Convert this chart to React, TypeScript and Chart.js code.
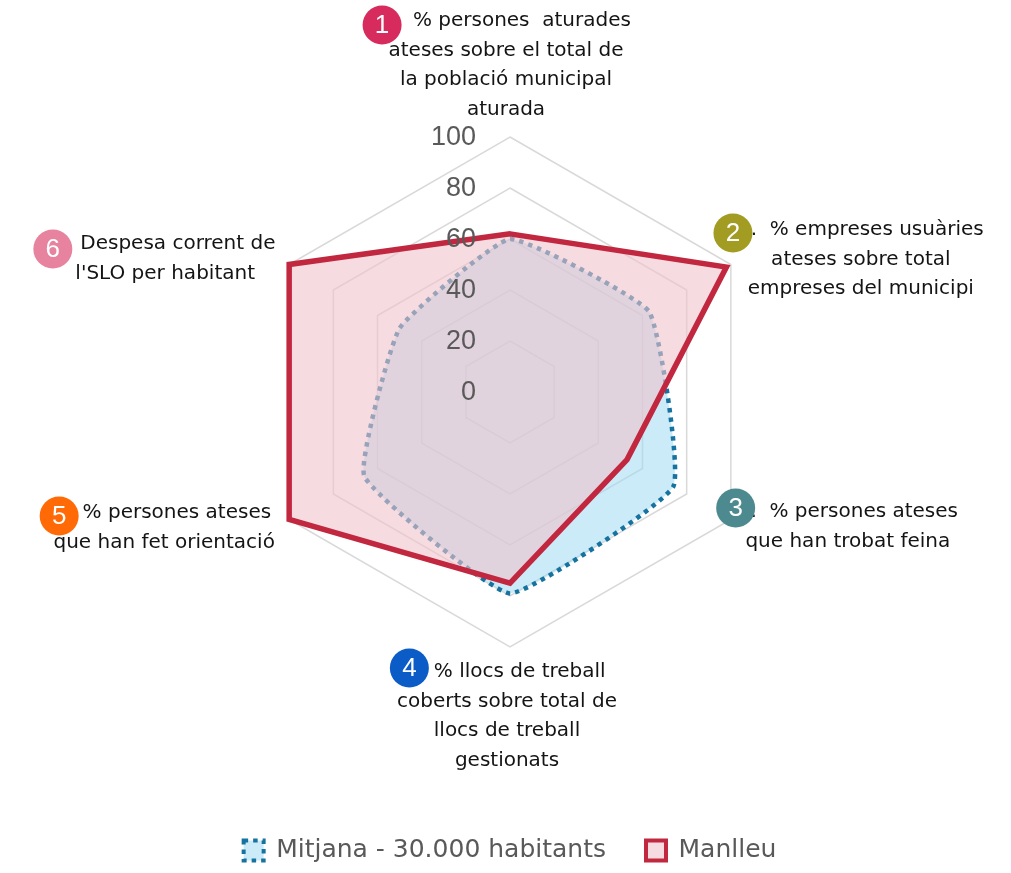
import React, { useEffect, useRef } from 'react';
import { Chart, registerables } from 'chart.js';

Chart.register(...registerables);

// ---- data ----
const categories: string[][] = [
  ['1.  % persones  aturades', 'ateses sobre el total de', 'la població municipal', 'aturada'],
  ['2.  % empreses usuàries', 'ateses sobre total', 'empreses del municipi'],
  ['3.  % persones ateses', 'que han trobat feina'],
  ['4. % llocs de treball', 'coberts sobre total de', 'llocs de treball', 'gestionats'],
  ['5. % persones ateses', 'que han fet orientació'],
  ['6. Despesa corrent de', "l'SLO per habitant"],
];
const badgeNumbers = ['1', '2', '3', '4', '5', '6'];
const seriesNames = ['Mitjana - 30.000 habitants', 'Manlleu'];
const mitjana = [60, 63, 74, 79, 66, 50];
const manlleu = [62, 98, 53, 75, 100, 100];
const tickValues = [0, 20, 40, 60, 80, 100];

// ---- styles / layout ----
const badgeColors = ['#d62b5c', '#a29c22', '#4d8a8f', '#0b5cc7', '#ff6a06', '#e8839f'];
// label block offsets (centre x, first line centre y) relative to the outer vertex of each axis
const labelOffsets: [number, number][] = [
  [-4, -116],
  [130, -34.5],
  [117, -7.5],
  [-3, 25],
  [-125, -6.5],
  [-124, -20.5],
];
// badge nudges relative to the start of the first line
const badgeNudges: [number, number][] = [
  [0, 3],
  [-6, 2],
  [-3, -5],
  [0, -5],
  [1, 2],
  [-3, 4],
];
const LINE_H = 29.5;

const overlayPlugin = {
  id: 'overlay',
  afterDatasetsDraw(chart: any) {
    const scale = chart.scales.r;
    const ctx: CanvasRenderingContext2D = chart.ctx;
    ctx.save();

    // tick labels, right aligned left of the vertical axis
    ctx.font = '27px "Liberation Sans", Arial, sans-serif';
    ctx.fillStyle = '#595959';
    ctx.textAlign = 'right';
    ctx.textBaseline = 'middle';
    scale.ticks.forEach((t: any) => {
      if (!tickValues.includes(t.value)) return;
      const d = scale.getDistanceFromCenterForValue(t.value);
      ctx.fillText(String(t.value), scale.xCenter - 34, scale.yCenter - d + 1);
    });

    // point labels with numbered badges
    categories.forEach((lines, i) => {
      const p = scale.getPointPosition(i, scale.drawingArea);
      const cx = p.x + labelOffsets[i][0];
      const y0 = p.y + labelOffsets[i][1];
      ctx.font = '20px "DejaVu Sans", sans-serif';
      ctx.fillStyle = '#141414';
      ctx.textAlign = 'center';
      ctx.textBaseline = 'middle';
      lines.forEach((ln, k) => ctx.fillText(ln, cx, y0 + k * LINE_H));
      const w = ctx.measureText(lines[0]).width;
      const bx = cx - w / 2 + 1 + badgeNudges[i][0];
      const by = y0 + 1 + badgeNudges[i][1];
      ctx.beginPath();
      ctx.arc(bx, by, 19.5, 0, Math.PI * 2);
      ctx.fillStyle = badgeColors[i];
      ctx.fill();
      ctx.fillStyle = '#ffffff';
      ctx.font = '26px "Liberation Sans", Arial, sans-serif';
      ctx.textAlign = 'center';
      ctx.textBaseline = 'middle';
      ctx.fillText(badgeNumbers[i], bx, by + 1);
    });
    ctx.restore();
  },
};

export default function App() {
  const ref = useRef<HTMLCanvasElement>(null);
  useEffect(() => {
    const chart = new Chart(ref.current as HTMLCanvasElement, {
      type: 'radar',
      data: {
        labels: categories,
        datasets: [
          {
            label: seriesNames[0],
            data: mitjana,
            borderColor: '#16729f',
            backgroundColor: 'rgba(160,218,243,0.55)',
            borderWidth: 4.5,
            borderDash: [4.5, 5],
            borderCapStyle: 'butt',
            fill: true,
            pointRadius: 0,
            pointHoverRadius: 0,
            tension: 0.12,
            order: 2,
          } as any,
          {
            label: seriesNames[1],
            data: manlleu,
            borderColor: '#c1273f',
            backgroundColor: 'rgba(240,195,203,0.6)',
            borderWidth: 5.5,
            borderJoinStyle: 'miter',
            fill: true,
            pointRadius: 0,
            pointHoverRadius: 0,
            tension: 0,
            order: 1,
          } as any,
        ],
      },
      options: {
        responsive: true,
        maintainAspectRatio: false,
        animation: false,
        layout: { padding: { top: 137, left: 20, right: 11, bottom: 0 } },
        plugins: {
          legend: {
            position: 'bottom',
            weight: 3000,
            labels: {
              boxWidth: 20,
              boxHeight: 20,
              padding: 40,
              color: '#595959',
              font: { family: '"DejaVu Sans", sans-serif', size: 25 },
              generateLabels: (c: any) => {
                const items = (Chart.defaults.plugins.legend.labels as any).generateLabels(c);
                items.forEach((it: any) => { it.lineWidth = 4; });
                return items.sort((a: any, b: any) => a.datasetIndex - b.datasetIndex);
              },
            },
          } as any,
          title: {
            display: true,
            position: 'bottom',
            text: '',
            font: { size: 10, lineHeight: 1 },
            padding: { top: 141, bottom: 0 },
          },
          tooltip: { enabled: false },
        },
        scales: {
          r: {
            min: 0,
            max: 100,
            beginAtZero: true,
            ticks: { display: false, stepSize: 20 },
            pointLabels: { display: false },
            angleLines: { display: false },
            grid: { color: '#d9d9d9', lineWidth: 1.5 },
          },
        },
      },
      plugins: [overlayPlugin],
    });
    return () => chart.destroy();
  }, []);
  return (
    <div style={{ position: 'fixed', left: 0, top: 0, width: 1011, height: 873, background: '#ffffff' }}>
      <canvas ref={ref} />
    </div>
  );
}
